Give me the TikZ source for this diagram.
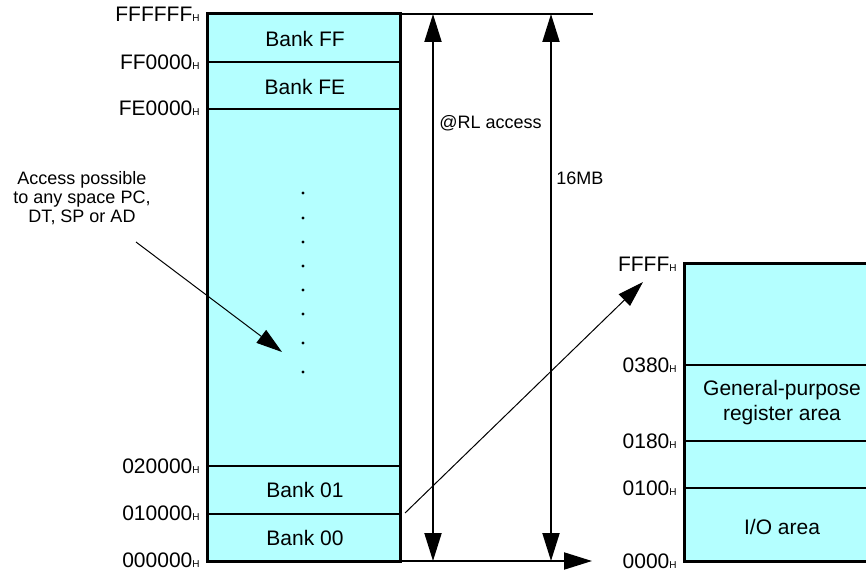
\documentclass[tikz,border=0pt]{standalone}
\usepackage{fontspec}
\setmainfont{Liberation Sans}
\usetikzlibrary{arrows.meta}
\definecolor{bankfill}{HTML}{B4FFFF}
\newcommand{\hx}{{\fontsize{5}{6}\selectfont H}}

\begin{document}
\begin{tikzpicture}[x=0.5pt, y=-0.5pt,
  mem/.style={draw, line width=1.5pt, fill=bankfill, anchor=north west, inner sep=0pt, outer sep=0pt},
  sep/.style={line width=1pt},
  lbl/.style={font=\fontsize{10.5}{12.5}\selectfont, inner sep=0pt, align=center},
  addr/.style={font=\fontsize{10.5}{12.5}\selectfont, inner sep=0pt, anchor=east},
  note/.style={font=\fontsize{9}{9.5}\selectfont, inner sep=0pt, align=center},
  arr/.style={-{Triangle[length=14pt, width=8.5pt]}, line width=1pt},
  dblarr/.style={{Triangle[length=14pt, width=8.5pt]}-{Triangle[length=14pt, width=8.5pt]}, line width=1pt},
  thinarr/.style={-{Triangle[length=13pt, width=8pt]}, line width=0.5pt},
  dot/.style={circle, fill, inner sep=0pt, minimum size=1.6pt}
]
\useasboundingbox (0,0) rectangle (866,571);
\clip (0,0) rectangle (866,571);

% 16MB space
\node[mem, minimum width=96.5pt, minimum height=273.5pt] (bigmem) at (207,14) {};
\foreach \y in {62,109,466,514}
  \draw[sep] (207,\y) -- (400,\y);
\node[lbl] (bff) at (305,39) {Bank FF};
\node[lbl] (bfe) at (305,87) {Bank FE};
\node[lbl] (b01) at (305,490) {Bank 01};
\node[lbl] (b00) at (305,538) {Bank 00};
\foreach \y [count=\i] in {193,218,242,266,290,314,343,372}
  \node[dot] (d\i) at (303,\y) {};

\node[addr] (a1) at (200,14) {FFFFFF\hx};
\node[addr] (a2) at (200,62) {FF0000\hx};
\node[addr] (a3) at (200,108) {FE0000\hx};
\node[addr] (a4) at (200,466) {020000\hx};
\node[addr] (a5) at (200,513) {010000\hx};
\node[addr] (a6) at (200,560) {000000\hx};

% bank 00 space
\node[mem, minimum width=98pt, minimum height=148.5pt] (smallmem) at (684,264) {};
\foreach \y in {365,441,488}
  \draw[sep] (684,\y) -- (880,\y);
\node[lbl] (gpr) at (782,403) {General-purpose\\register area};
\node[lbl] (io) at (782,527) {I/O area};

\node[addr] (c1) at (677,264) {FFFF\hx};
\node[addr] (c2) at (677,365) {0380\hx};
\node[addr] (c3) at (677,441) {0180\hx};
\node[addr] (c4) at (677,488) {0100\hx};
\node[addr] (c5) at (677,561) {0000\hx};

% extents
\coordinate (topEnd) at (593,14);
\coordinate (botEnd) at (592,561);
\coordinate (rlTop) at (433,14);
\coordinate (rlBot) at (433,561);
\coordinate (mbTop) at (551,14);
\coordinate (mbBot) at (551,561);
\draw[sep] (bigmem.north east) -- (bigmem.north east -| topEnd);
\draw[arr] (bigmem.south east) -- (bigmem.south east -| botEnd);
\draw[dblarr] (rlTop) -- (rlBot);
\draw[dblarr] (mbTop) -- (mbBot);
\node[note, anchor=west] (rl) at (439,123) {@RL access};
\node[note, anchor=west] (mb) at (556,178) {16MB};

% bank 00 zoom
\coordinate (bankTail) at (405,513);
\coordinate (bankHead) at (643,282);
\draw[thinarr] (bankTail) -- (bankHead);

\node[note] (acc) at (82,198) {Access possible\\to any space PC,\\DT, SP or AD};
\coordinate (accTail) at (136,242);
\coordinate (accHead) at (282,352);
\draw[thinarr] (accTail) -- (accHead);

\end{tikzpicture}
\end{document}
